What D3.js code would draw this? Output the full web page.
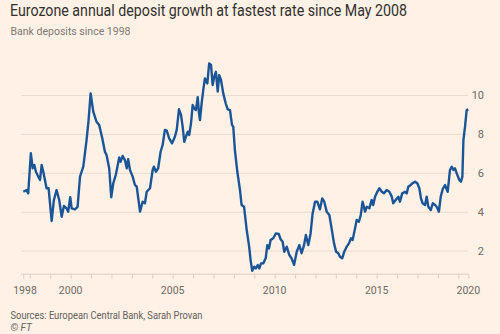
<!DOCTYPE html>
<html>
<head>
<meta charset="utf-8">
<script src="https://cdn.jsdelivr.net/npm/d3@7"></script>
<style>
    html, body { margin: 0; padding: 0; background: #fff1e5; }
    svg { display: block; }
</style>
</head>
<body>
<div id="chart"></div>
<script>
// Fecha (año decimal) de cada lectura
const years = [
    1997.68, 1997.84, 1997.92, 1998.05, 1998.14, 1998.22, 1998.30, 1998.38, 1998.50, 1998.58,
    1998.66, 1998.74, 1998.82, 1998.92, 1999.07, 1999.18, 1999.31, 1999.44, 1999.56, 1999.67,
    1999.80, 1999.88, 1999.98, 2000.05, 2000.21, 2000.34, 2000.46, 2000.62, 2000.78, 2000.88,
    2000.98, 2001.11, 2001.27, 2001.40, 2001.55, 2001.68, 2001.76, 2001.89, 2001.99, 2002.09,
    2002.21, 2002.28, 2002.38, 2002.45, 2002.55, 2002.66, 2002.75, 2002.82, 2002.91, 2003.04,
    2003.15, 2003.24, 2003.40, 2003.53, 2003.64, 2003.73, 2003.89, 2004.02, 2004.08, 2004.18,
    2004.29, 2004.41, 2004.51, 2004.62, 2004.71, 2004.83, 2004.97, 2005.11, 2005.20, 2005.31,
    2005.41, 2005.49, 2005.57, 2005.65, 2005.74, 2005.81, 2005.90, 2005.98, 2006.06, 2006.14,
    2006.23, 2006.29, 2006.34, 2006.42, 2006.50, 2006.58, 2006.70, 2006.79, 2006.88, 2006.96,
    2007.04, 2007.12, 2007.21, 2007.28, 2007.37, 2007.48, 2007.60, 2007.70, 2007.81, 2007.91,
    2007.97, 2008.05, 2008.17, 2008.30, 2008.38, 2008.50, 2008.63, 2008.75, 2008.82, 2008.90,
    2009.00, 2009.08, 2009.17, 2009.25, 2009.33, 2009.44, 2009.56, 2009.64, 2009.72, 2009.80,
    2009.93, 2010.06, 2010.20, 2010.29, 2010.39, 2010.47, 2010.59, 2010.72, 2010.83, 2010.95,
    2011.08, 2011.21, 2011.32, 2011.44, 2011.53, 2011.65, 2011.76, 2011.86, 2011.98, 2012.09,
    2012.22, 2012.33, 2012.43, 2012.55, 2012.68, 2012.79, 2012.91, 2013.01, 2013.12, 2013.20,
    2013.31, 2013.41, 2013.53, 2013.64, 2013.74, 2013.82, 2013.94, 2014.02, 2014.13, 2014.22,
    2014.31, 2014.43, 2014.51, 2014.64, 2014.75, 2014.83, 2014.92, 2015.03, 2015.13, 2015.25,
    2015.36, 2015.49, 2015.62, 2015.74, 2015.81, 2015.93, 2016.06, 2016.14, 2016.25, 2016.39,
    2016.47, 2016.55, 2016.67, 2016.76, 2016.88, 2016.99, 2017.09, 2017.17, 2017.25, 2017.37,
    2017.45, 2017.53, 2017.65, 2017.75, 2017.86, 2017.94, 2018.05, 2018.14, 2018.24, 2018.35,
    2018.48, 2018.59, 2018.68, 2018.76, 2018.84, 2018.92, 2019.05, 2019.13, 2019.20, 2019.25,
    2019.33, 2019.41, 2019.49
];

// Crecimiento anual de los depósitos (%)
const growth = [
    5.05, 5.14, 4.97, 7.03, 6.26, 6.43, 6.08, 5.90, 5.66, 6.43,
    6.08, 5.66, 5.23, 5.23, 3.55, 4.63, 5.14, 4.63, 3.77, 4.32,
    4.20, 4.03, 4.77, 4.20, 4.15, 4.28, 5.83, 6.34, 7.71, 8.74,
    10.11, 9.17, 8.65, 8.48, 7.80, 7.11, 6.94, 6.26, 4.77, 5.49,
    5.91, 6.26, 6.82, 6.60, 6.89, 6.68, 6.26, 6.72, 6.17, 5.83,
    5.40, 5.31, 4.03, 4.54, 4.46, 5.05, 5.23, 6.17, 6.34, 6.08,
    6.26, 7.11, 7.46, 8.23, 8.19, 7.80, 7.54, 7.88, 8.23, 9.29,
    9.00, 8.40, 7.62, 7.88, 8.14, 7.97, 8.57, 9.51, 9.34, 9.25,
    9.91, 9.08, 8.74, 9.60, 10.28, 10.88, 10.62, 11.65, 11.57, 10.54,
    10.97, 11.22, 10.20, 11.05, 10.80, 10.11, 9.60, 9.29, 9.25, 8.48,
    8.40, 7.20, 6.08, 5.14, 4.37, 4.28, 3.08, 2.23, 1.54, 0.99,
    1.20, 1.11, 1.29, 1.11, 1.37, 1.37, 1.63, 2.31, 2.14, 2.57,
    2.66, 2.91, 2.88, 2.61, 2.48, 1.97, 2.23, 1.80, 1.63, 1.29,
    1.97, 2.31, 1.89, 2.31, 2.83, 2.31, 2.91, 3.94, 4.54, 4.54,
    4.15, 4.71, 4.54, 4.03, 3.86, 3.17, 2.40, 1.97, 1.89, 1.71,
    1.63, 1.97, 2.23, 2.40, 2.66, 2.57, 3.17, 3.60, 3.51, 3.86,
    4.54, 4.03, 4.28, 4.20, 4.63, 4.37, 4.80, 5.05, 5.23, 5.05,
    4.97, 5.14, 5.05, 4.80, 4.46, 4.63, 4.80, 4.54, 4.97, 5.05,
    4.97, 5.31, 5.40, 5.49, 5.57, 5.49, 5.23, 4.71, 4.46, 4.37,
    4.80, 4.28, 4.11, 4.46, 4.37, 4.28, 4.03, 4.80, 5.20, 5.40,
    5.05, 6.17, 6.34, 6.17, 6.26, 6.00, 5.66, 5.57, 5.83, 7.71,
    8.40, 9.25, 9.29
];

// Marcas del eje
const yTicks = [2, 4, 6, 8, 10];
const xLabelYears = [2000, 2005, 2010, 2015];
const xStartLabel = "1998";
const xEndLabel = "2020";

const title = "Eurozone annual deposit growth at fastest rate since May 2008";
const subtitle = "Bank deposits since 1998";
const source = "Sources: European Central Bank, Sarah Provan";

// Dimensiones
const width = 500;
const height = 334;
const font = "Roboto, 'Open Sans', sans-serif";

const x = d3.scaleLinear()
    .domain([years[0], years[years.length - 1]])
    .range([23.3, 468.3]);

const y = d3.scaleLinear()
    .domain([0.84, 10])
    .range([273.7, 95.5]);

const svg = d3.select("#chart")
    .append("svg")
    .attr("width", width)
    .attr("height", height);

svg.append("rect")
    .attr("width", width)
    .attr("height", height)
    .attr("fill", "#fff1e5");

// Ajusta un texto a un ancho dado
function fit(sel, w) {
    const len = sel.node().getComputedTextLength();
    if (len > w) sel.attr("textLength", w).attr("lengthAdjust", "spacingAndGlyphs");
}

// Títulos
svg.append("text")
    .attr("x", 10)
    .attr("y", 16)
    .attr("font-family", font)
    .attr("font-size", 16)
    .attr("fill", "#33302e")
    .text(title)
    .call(fit, 397);

svg.append("text")
    .attr("x", 10.5)
    .attr("y", 35)
    .attr("font-family", font)
    .attr("font-size", 11)
    .attr("fill", "#807973")
    .text(subtitle)
    .call(fit, 120);

// Líneas de cuadrícula
svg.append("g")
    .selectAll("line")
    .data(yTicks)
    .join("line")
    .attr("x1", 21)
    .attr("x2", 468)
    .attr("y1", d => y(d))
    .attr("y2", d => y(d))
    .attr("stroke", "#eadccf")
    .attr("stroke-width", 1);

// Etiquetas del eje Y
svg.append("g")
    .selectAll("text")
    .data(yTicks)
    .join("text")
    .attr("x", 484)
    .attr("y", d => y(d))
    .attr("dy", "0.35em")
    .attr("text-anchor", "end")
    .attr("font-family", font)
    .attr("font-size", 11)
    .attr("fill", "#6f6964")
    .text(d => d);

// Eje X
const xTickValues = [years[0]].concat(d3.range(1998, 2020)).concat([years[years.length - 1]]);
const xAxis = d3.axisBottom(x)
    .tickValues(xTickValues)
    .tickSize(5)
    .tickSizeOuter(0)
    .tickFormat(() => "");

const gx = svg.append("g")
    .attr("transform", `translate(0,${y.range()[0]})`)
    .call(xAxis);

gx.select(".domain")
    .attr("d", `M21,0.5H468`)
    .attr("stroke", "#dccfc4");
gx.selectAll(".tick line").attr("stroke", "#dccfc4");

const xLabels = [{ v: years[0], t: xStartLabel }]
    .concat(xLabelYears.map(v => ({ v, t: String(v) })))
    .concat([{ v: years[years.length - 1], t: xEndLabel }]);

svg.append("g")
    .selectAll("text")
    .data(xLabels)
    .join("text")
    .attr("x", d => x(d.v) + (d.t === xStartLabel ? 1.7 : 0))
    .attr("y", 294)
    .attr("text-anchor", "middle")
    .attr("font-family", font)
    .attr("font-size", 10.5)
    .attr("fill", "#6f6964")
    .text(d => d.t);

// Serie
const line = d3.line()
    .x((d, i) => x(years[i]))
    .y(d => y(d));

svg.append("path")
    .datum(growth)
    .attr("d", line)
    .attr("fill", "none")
    .attr("stroke", "#1b5597")
    .attr("stroke-width", 2.4)
    .attr("stroke-linejoin", "round");

// Fuente
svg.append("text")
    .attr("x", 10.5)
    .attr("y", 319)
    .attr("font-family", font)
    .attr("font-size", 10)
    .attr("fill", "#66605c")
    .text(source)
    .call(fit, 192);

svg.append("text")
    .attr("x", 10.5)
    .attr("y", 331)
    .attr("font-family", font)
    .attr("font-size", 10)
    .attr("font-style", "italic")
    .attr("fill", "#66605c")
    .text("© FT");
</script>
</body>
</html>
